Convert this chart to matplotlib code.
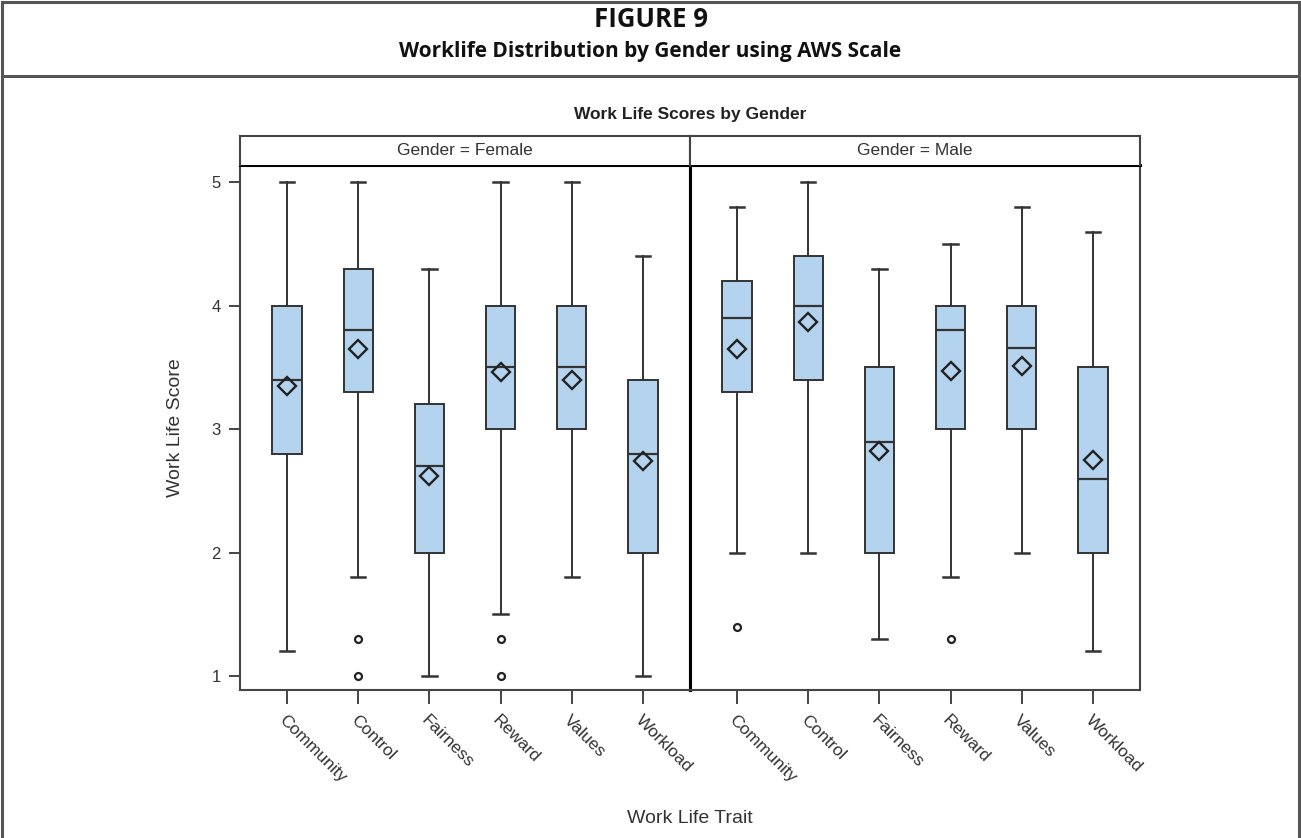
import matplotlib
matplotlib.use("Agg")
import matplotlib.pyplot as plt
from matplotlib.lines import Line2D

traits = ["Community", "Control", "Fairness", "Reward", "Values", "Workload"]
genders = ["Female", "Male"]

# per gender: whisker low, Q1, median, Q3, whisker high, mean, outliers
female_whislo = [1.2, 1.8, 1.0, 1.5, 1.8, 1.0]
female_q1 = [2.8, 3.3, 2.0, 3.0, 3.0, 2.0]
female_med = [3.4, 3.8, 2.7, 3.5, 3.5, 2.8]
female_q3 = [4.0, 4.3, 3.2, 4.0, 4.0, 3.4]
female_whishi = [5.0, 5.0, 4.3, 5.0, 5.0, 4.4]
female_mean = [3.35, 3.65, 2.62, 3.46, 3.40, 2.74]
female_fliers = [[], [1.3, 1.0], [], [1.3, 1.0], [], []]

male_whislo = [2.0, 2.0, 1.3, 1.8, 2.0, 1.2]
male_q1 = [3.3, 3.4, 2.0, 3.0, 3.0, 2.0]
male_med = [3.9, 4.0, 2.9, 3.8, 3.66, 2.6]
male_q3 = [4.2, 4.4, 3.5, 4.0, 4.0, 3.5]
male_whishi = [4.8, 5.0, 4.3, 4.5, 4.8, 4.6]
male_mean = [3.65, 3.87, 2.82, 3.47, 3.51, 2.75]
male_fliers = [[1.4], [], [], [1.3], [], []]

yticks = [1, 2, 3, 4, 5]

def make_stats(lo, q1, med, q3, hi, mean, fl):
    return [dict(whislo=a, q1=b, med=c, q3=d, whishi=e, mean=f, fliers=g, label=t)
            for a, b, c, d, e, f, g, t in zip(lo, q1, med, q3, hi, mean, fl, traits)]

stats = {
    "Female": make_stats(female_whislo, female_q1, female_med, female_q3,
                         female_whishi, female_mean, female_fliers),
    "Male": make_stats(male_whislo, male_q1, male_med, male_q3,
                       male_whishi, male_mean, male_fliers),
}

W, H = 1301, 838
fig = plt.figure(figsize=(W / 100, H / 100), dpi=100)
plt.rcParams['font.family'] = ['Liberation Sans', 'DejaVu Sans']

def fx(px):
    return px / W

def fy(py):
    return 1 - py / H

# outer frame lines
frame_col = "#555555"
for (x0, y0, x1, y1) in [(2, 2, 1299, 2), (2, 2, 2, 838), (1299, 2, 1299, 838), (2, 76, 1299, 76)]:
    fig.add_artist(Line2D([fx(x0), fx(x1)], [fy(y0), fy(y1)], color=frame_col, lw=2.2,
                          transform=fig.transFigure))

head_font = ['Open Sans', 'DejaVu Sans']
fig.text(0.5, fy(27), "FIGURE 9", ha="center", va="baseline", fontsize=18.5,
         fontweight="bold", family=head_font, color="#111111")
fig.text(0.5, fy(57), "Worklife Distribution by Gender using AWS Scale", ha="center", va="baseline",
         fontsize=15, fontweight="bold", family=head_font, color="#111111")
fig.text(fx(690), fy(115), "Work Life Scores by Gender", ha="center", va="center",
         fontsize=12.5, fontweight="bold", color="#222222")

left, mid, right = 240, 690, 1140
top, bottom = 165, 690
strip_top = 136

box_col = "#B3D3EE"
edge = "#333333"
txt_col = "#333333"

panels = [(left, mid), (mid, right)]
for i, (g, (x0, x1)) in enumerate(zip(genders, panels)):
    ax = fig.add_axes([fx(x0), fy(bottom), fx(x1) - fx(x0), fy(top) - fy(bottom)])
    ax.bxp(stats[g], positions=range(len(traits)), widths=0.41, showmeans=True,
           showfliers=True, patch_artist=True, capwidths=0.2,
           boxprops=dict(facecolor=box_col, edgecolor=edge, linewidth=1.4),
           medianprops=dict(color=edge, linewidth=1.6),
           whiskerprops=dict(color=edge, linewidth=1.4),
           capprops=dict(color=edge, linewidth=1.8),
           meanprops=dict(marker="D", markerfacecolor="none", markeredgecolor="#222222",
                          markersize=9, markeredgewidth=1.7),
           flierprops=dict(marker="o", markerfacecolor="none", markeredgecolor="#222222",
                           markersize=5, markeredgewidth=1.6))
    ax.set_xlim(-0.66, 5.66)
    ax.set_ylim(0.887, 5.14)
    ax.set_xticks(range(len(traits)))
    ax.set_xticklabels(traits, rotation=-45, ha="left", va="top", rotation_mode="anchor",
                       fontsize=12.5, color=txt_col)
    ax.tick_params(axis="x", length=10, width=1.4, color="#444444", pad=6)
    for s in ax.spines.values():
        s.set_color("#444444")
        s.set_linewidth(1.5)
    if i == 0:
        ax.set_yticks(yticks)
        ax.set_yticklabels([str(v) for v in yticks], fontsize=12, color=txt_col)
        ax.tick_params(axis="y", length=8, width=1.4, color="#444444", pad=6)
        ax.spines["right"].set_color("black")
        ax.spines["right"].set_linewidth(2.2)
    else:
        ax.set_yticks([])
        ax.spines["left"].set_color("black")
        ax.spines["left"].set_linewidth(2.2)
    ax.spines["top"].set_color("black")
    ax.spines["top"].set_linewidth(2.2)

    # strip header
    sax = fig.add_axes([fx(x0), fy(top), fx(x1) - fx(x0), fy(strip_top) - fy(top)])
    sax.set_xticks([])
    sax.set_yticks([])
    for s in sax.spines.values():
        s.set_color("#444444")
        s.set_linewidth(1.5)
    sax.spines["bottom"].set_visible(False)
    sax.text(0.5, 0.5, f"Gender = {g}", ha="center", va="center", fontsize=12.5,
             color=txt_col, transform=sax.transAxes)

fig.text(fx(176), fy(428), "Work Life Score", rotation=90, ha="center", va="center",
         fontsize=14, color=txt_col)
fig.text(fx(690), fy(818), "Work Life Trait", ha="center", va="center",
         fontsize=14, color=txt_col)

fig.savefig("out.png", dpi=100)
